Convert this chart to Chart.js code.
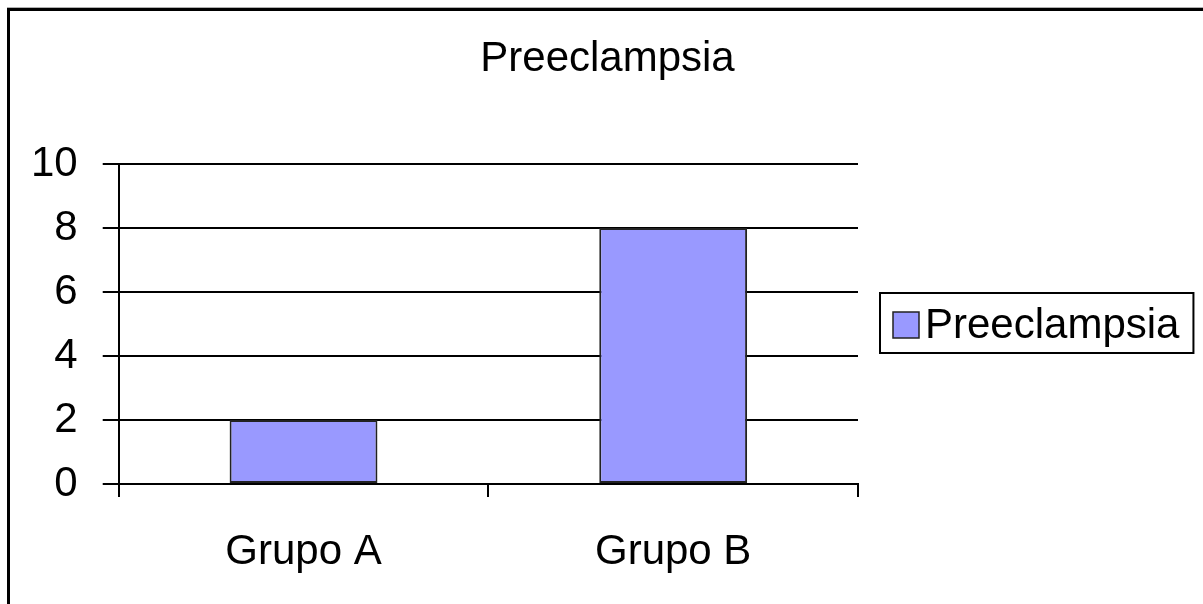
<!DOCTYPE html>
<html>
<head>
<meta charset="utf-8">
<script src="https://cdn.jsdelivr.net/npm/chart.js@4.4.1/dist/chart.umd.min.js"></script>
<style>
    html, body { margin: 0; padding: 0; background: #fff; }
    #chart { display: block; }
</style>
</head>
<body>
<canvas id="chart" width="1203" height="604"></canvas>
<script>
// ─── Data ───
const chartTitle = 'Preeclampsia';
const categories = ['Grupo A', 'Grupo B'];
const seriesName = 'Preeclampsia';
const seriesValues = [2, 8];
const yMin = 0;
const yMax = 10;
const yStep = 2;

const FONT = '"Liberation Sans", Arial, sans-serif';
const FONT_SIZE = 42;
const BAR_FILL = '#9999FF';

// ─── Frame (top + left line of the cropped chart border) and title ───
const framePlugin = {
    id: 'frame',
    beforeDraw(chart) {
        const ctx = chart.ctx;
        ctx.save();
        ctx.fillStyle = '#fff';
        ctx.fillRect(0, 0, chart.width, chart.height);
        ctx.fillStyle = '#b0b0b0';
        ctx.fillRect(7, 7, chart.width, 1);
        ctx.fillRect(7, 7, 1, chart.height);
        ctx.fillStyle = '#000';
        ctx.fillRect(7, 8, chart.width, 3);
        ctx.fillRect(7, 8, 3, chart.height);

        ctx.font = FONT_SIZE + 'px ' + FONT;
        ctx.textAlign = 'center';
        ctx.textBaseline = 'middle';
        ctx.fillText(chartTitle, chart.width / 2 + 6, 59);
        ctx.restore();
    }
};

// ─── Boxed legend on the right ───
const boxLegendPlugin = {
    id: 'boxLegend',
    afterDraw(chart) {
        const ctx = chart.ctx;
        const area = chart.chartArea;
        const ds = chart.data.datasets[0];
        ctx.save();
        ctx.font = FONT_SIZE + 'px ' + FONT;
        const textW = ctx.measureText(ds.label).width;
        const x = area.right + 22;
        const cy = (area.top + area.bottom) / 2 - 1;
        const w = 13 + 26 + 6 + textW + 14;
        const h = 60;

        ctx.lineWidth = 2;
        ctx.strokeStyle = '#000';
        ctx.strokeRect(x, cy - h / 2, w, h);

        ctx.fillStyle = ds.backgroundColor;
        ctx.fillRect(x + 13, cy - 11, 26, 26);
        ctx.lineWidth = 1.5;
        ctx.strokeStyle = '#222';
        ctx.strokeRect(x + 13, cy - 11, 26, 26);

        ctx.fillStyle = '#000';
        ctx.textBaseline = 'middle';
        ctx.textAlign = 'left';
        ctx.fillText(ds.label, x + 13 + 26 + 6, cy + 3);
        ctx.restore();
    }
};

const ctx = document.getElementById('chart').getContext('2d');
new Chart(ctx, {
    type: 'bar',
    data: {
        labels: categories,
        datasets: [{
            label: seriesName,
            data: seriesValues,
            backgroundColor: BAR_FILL,
            borderColor: '#222',
            borderWidth: 2,
            borderSkipped: false,
            categoryPercentage: 1.0,
            barPercentage: 0.4
        }]
    },
    options: {
        responsive: false,
        animation: false,
        layout: { padding: { top: 164, left: 6, right: 345, bottom: 31 } },
        scales: {
            x: {
                afterFit: scale => { scale.height = 89; },
                grid: {
                    offset: true,
                    drawOnChartArea: false,
                    drawTicks: true,
                    tickLength: 13,
                    color: '#000',
                    lineWidth: 2
                },
                border: { display: true, color: '#000', width: 2 },
                ticks: {
                    color: '#000',
                    padding: 30,
                    font: { family: FONT, size: FONT_SIZE }
                }
            },
            y: {
                min: yMin,
                max: yMax,
                grid: {
                    color: '#000',
                    lineWidth: 2,
                    drawTicks: true,
                    tickLength: 16
                },
                border: { display: true, color: '#000', width: 2 },
                ticks: {
                    stepSize: yStep,
                    color: '#000',
                    padding: 25,
                    font: { family: FONT, size: FONT_SIZE }
                }
            }
        },
        plugins: {
            legend: { display: false },
            tooltip: { enabled: false },
            title: { display: false }
        }
    },
    plugins: [framePlugin, boxLegendPlugin]
});
</script>
</body>
</html>
